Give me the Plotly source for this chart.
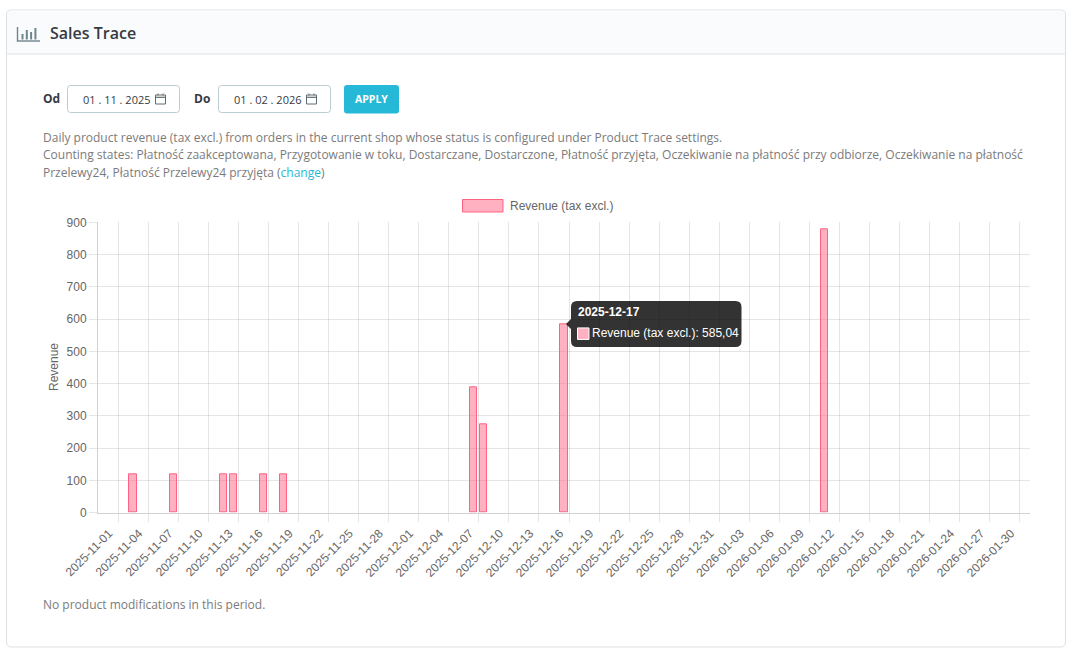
import plotly.graph_objects as go
import pandas as pd

W, H = 1077, 657

# ---------------- data ----------------
period_start = "2025-11-01"
period_end = "2026-02-01"
dates = [d.strftime("%Y-%m-%d") for d in pd.date_range(period_start, period_end, freq="D")]
sale_days = ["2025-11-04", "2025-11-08", "2025-11-13", "2025-11-14", "2025-11-17",
             "2025-11-19", "2025-12-08", "2025-12-09", "2025-12-17", "2026-01-12"]
sale_revenue = [120, 120, 120, 120, 120, 120, 389, 274, 585.04, 878]
tick_labels = dates[::3]
y_ticks = list(range(0, 901, 100))
series_name = "Revenue (tax excl.)"
hover_day = "2025-12-17"

# ---------------- styles ----------------
PINK_FILL = "rgba(255,99,132,0.5)"
PINK_LINE = "rgb(255,99,132)"
GRID = "rgba(0,0,0,0.1)"
AXIS = "rgba(0,0,0,0.18)"
CHART_FONT = "Liberation Sans, Arial, sans-serif"
PAGE_FONT = "Open Sans, Noto Sans, sans-serif"
TXT_DARK = "#363a41"
TXT_HELP = "#7b7b7b"
ACCENT = "#25b9d7"

PLOT_L, PLOT_R, PLOT_T, PLOT_B = 98, 1030, 222.3, 512.7


def px(x):
    return x / W


def py(y):
    return 1 - y / H


def rounded_path(x0, y0, x1, y1, r, top_only=False):
    rb = 0 if top_only else r
    pts = [
        f"M{px(x0 + r)},{py(y0)}",
        f"L{px(x1 - r)},{py(y0)}",
        f"Q{px(x1)},{py(y0)} {px(x1)},{py(y0 + r)}",
        f"L{px(x1)},{py(y1 - rb)}",
        f"Q{px(x1)},{py(y1)} {px(x1 - rb)},{py(y1)}",
        f"L{px(x0 + rb)},{py(y1)}",
        f"Q{px(x0)},{py(y1)} {px(x0)},{py(y1 - rb)}",
        f"L{px(x0)},{py(y0 + r)}",
        f"Q{px(x0)},{py(y0)} {px(x0 + r)},{py(y0)}",
        "Z",
    ]
    return " ".join(pts)


fig = go.Figure()

fig.add_trace(go.Bar(
    x=sale_days, y=sale_revenue, name=series_name,
    width=0.72,
    marker=dict(color=PINK_FILL, line=dict(color=PINK_LINE, width=1)),
    showlegend=False, hoverinfo="skip",
))
# helper trace for the boundary grid axis
fig.add_trace(go.Scatter(x=[], y=[], xaxis="x2", yaxis="y", showlegend=False,
                         hoverinfo="skip", mode="markers"))

n = len(dates)
grid_bounds = [i * 3 + 1.5 for i in range(len(tick_labels))]

shapes = []
annotations = []

# ---- page panel ----
shapes.append(dict(type="path", xref="paper", yref="paper", layer="below",
                   path=rounded_path(6.5, 10, 1065.5, 647, 5),
                   fillcolor="white", line=dict(color="#dbe0e3", width=1)))
shapes.append(dict(type="path", xref="paper", yref="paper", layer="below",
                   path=rounded_path(7, 10.5, 1065, 54, 5, top_only=True),
                   fillcolor="#fafbfc", line=dict(width=0)))
shapes.append(dict(type="line", xref="paper", yref="paper", layer="below",
                   x0=px(7), x1=px(1065), y0=py(54), y1=py(54),
                   line=dict(color="#dde3e6", width=1)))

# header icon (bar-chart glyph)
ICON = "#6c868e"
shapes.append(dict(type="line", xref="paper", yref="paper", x0=px(17.5), x1=px(17.5),
                   y0=py(27), y1=py(41.5), line=dict(color=ICON, width=1.4)))
shapes.append(dict(type="line", xref="paper", yref="paper", x0=px(17), x1=px(40),
                   y0=py(41), y1=py(41), line=dict(color=ICON, width=1.4)))
for bx, top in [(21.5, 34), (25.8, 30), (30.1, 32), (34.4, 28)]:
    shapes.append(dict(type="rect", xref="paper", yref="paper", x0=px(bx), x1=px(bx + 2),
                       y0=py(39.5), y1=py(top), fillcolor=ICON, line=dict(width=0)))

annotations.append(dict(xref="paper", yref="paper", x=px(47.5), y=py(33.5), xanchor="left",
                        yanchor="middle", showarrow=False, text="Sales Trace",
                        font=dict(family=PAGE_FONT, size=16, weight=600, color=TXT_DARK)))

# date inputs
for label, lx, bx0, bx1, val in [("Od", 40.5, 67.5, 179.5, "01 . 11 . 2025"),
                                 ("Do", 191.5, 218.5, 330.5, "01 . 02 . 2026")]:
    annotations.append(dict(xref="paper", yref="paper", x=px(lx), y=py(98), xanchor="left",
                            yanchor="middle", showarrow=False, text=label,
                            font=dict(family=PAGE_FONT, size=12, weight=700, color=TXT_DARK)))
    shapes.append(dict(type="path", xref="paper", yref="paper",
                       path=rounded_path(bx0, 85.5, bx1, 112.5, 3),
                       fillcolor="white", line=dict(color="#bbcdd2", width=1)))
    annotations.append(dict(xref="paper", yref="paper", x=px(bx0 + 13), y=py(99.5),
                            xanchor="left", yanchor="middle", showarrow=False, text=val,
                            font=dict(family=PAGE_FONT, size=11, color=TXT_DARK)))
    cx = bx1 - 24
    shapes.append(dict(type="rect", xref="paper", yref="paper", x0=px(cx), x1=px(cx + 10),
                       y0=py(95), y1=py(104), fillcolor="rgba(0,0,0,0)",
                       line=dict(color="#5f6b70", width=1)))
    shapes.append(dict(type="line", xref="paper", yref="paper", x0=px(cx), x1=px(cx + 10),
                       y0=py(97.3), y1=py(97.3), line=dict(color="#5f6b70", width=1.2)))
    for tx in (cx + 2.5, cx + 7.5):
        shapes.append(dict(type="line", xref="paper", yref="paper", x0=px(tx), x1=px(tx),
                           y0=py(93.5), y1=py(95.5), line=dict(color="#5f6b70", width=1)))

# apply button
shapes.append(dict(type="path", xref="paper", yref="paper",
                   path=rounded_path(344, 85, 399, 113.5, 3),
                   fillcolor=ACCENT, line=dict(width=0)))
annotations.append(dict(xref="paper", yref="paper", x=px(371.5), y=py(99.5), xanchor="center",
                        yanchor="middle", showarrow=False, text="APPLY",
                        font=dict(family=PAGE_FONT, size=10.5, weight=700, color="white")))

# help text
help_lines = [
    "Daily product revenue (tax excl.) from orders in the current shop whose status is configured under Product Trace settings.",
    "Counting states: Płatność zaakceptowana, Przygotowanie w toku, Dostarczane, Dostarczone, Płatność przyjęta, Oczekiwanie na płatność przy odbiorze, Oczekiwanie na płatność",
    f"Przelewy24, Płatność Przelewy24 przyjęta (<span style='color:{ACCENT}'>change</span>)",
]
for i, line in enumerate(help_lines):
    annotations.append(dict(xref="paper", yref="paper", x=px(40.5), y=py(137.5 + i * 17.5),
                            xanchor="left", yanchor="middle", showarrow=False, text=line,
                            font=dict(family=PAGE_FONT, size=12, color=TXT_HELP)))

annotations.append(dict(xref="paper", yref="paper", x=px(40.5), y=py(604), xanchor="left",
                        yanchor="middle", showarrow=False,
                        text="No product modifications in this period.",
                        font=dict(family=PAGE_FONT, size=12, color=TXT_HELP)))

# legend (Chart.js style wide swatch)
shapes.append(dict(type="rect", xref="paper", yref="paper", x0=px(462.5), x1=px(503),
                   y0=py(199.5), y1=py(212), fillcolor=PINK_FILL,
                   line=dict(color=PINK_LINE, width=1)))
annotations.append(dict(xref="paper", yref="paper", x=px(508), y=py(205.5), xanchor="left",
                        yanchor="middle", showarrow=False, text=series_name,
                        font=dict(family=CHART_FONT, size=12, color="#666")))

# y axis title
annotations.append(dict(xref="paper", yref="paper", x=px(53.5), y=py(367.5), xanchor="center",
                        yanchor="middle", showarrow=False, text="Revenue", textangle=-90,
                        font=dict(family=CHART_FONT, size=12, color="#666")))

# ---- tooltip anchored to hovered bar ----
hv = sale_revenue[sale_days.index(hover_day)]
L, R, T, B, r = 7, 177.5, 23, -23, 6
tip_path = (f"M{L + r},{T} L{R - r},{T} Q{R},{T} {R},{T - r} L{R},{B + r} Q{R},{B} {R - r},{B} "
            f"L{L + r},{B} Q{L},{B} {L},{B + r} L{L},-5 L2,0 L{L},5 L{L},{T - r} Q{L},{T} {L + r},{T} Z")
shapes.append(dict(type="path", xref="x", yref="y", xsizemode="pixel", ysizemode="pixel",
                   xanchor=hover_day, yanchor=hv, path=tip_path,
                   fillcolor="rgba(0,0,0,0.8)", line=dict(width=0)))
shapes.append(dict(type="rect", xref="x", yref="y", xsizemode="pixel", ysizemode="pixel",
                   xanchor=hover_day, yanchor=hv, x0=13.5, x1=25, y0=-15.5, y1=-4,
                   fillcolor="#ffb1c1", line=dict(color="white", width=1)))
annotations.append(dict(xref="x", yref="y", x=hover_day, y=hv, xshift=12, yshift=11.5,
                        xanchor="left", yanchor="middle", showarrow=False,
                        text=f"<b>{hover_day}</b>",
                        font=dict(family=CHART_FONT, size=12, color="white")))
hv_txt = f"{hv:.2f}".replace(".", ",")
annotations.append(dict(xref="x", yref="y", x=hover_day, y=hv, xshift=26, yshift=-9.5,
                        xanchor="left", yanchor="middle", showarrow=False,
                        text=f"{series_name}: {hv_txt}",
                        font=dict(family=CHART_FONT, size=12, color="white")))

fig.update_layout(
    width=W, height=H, autosize=False,
    margin=dict(l=0, r=0, t=0, b=0, pad=0, autoexpand=False),
    paper_bgcolor="white", plot_bgcolor="rgba(0,0,0,0)",
    showlegend=False, bargap=0,
    shapes=shapes, annotations=annotations,
    xaxis=dict(
        domain=[px(PLOT_L), px(PLOT_R)], type="category", automargin=False,
        categoryorder="array", categoryarray=dates, range=[-0.5, n - 0.5],
        tickmode="array", tickvals=tick_labels, ticktext=tick_labels, tickangle=-45,
        ticklabelstandoff=8, ticklabelshift=6,
        ticks="", showgrid=False, zeroline=False,
        showline=True, linecolor=AXIS, linewidth=1,
        tickfont=dict(family=CHART_FONT, size=12, color="#666"),
        fixedrange=True,
    ),
    xaxis2=dict(
        overlaying="x", anchor="y", type="linear", range=[-0.5, n - 0.5], automargin=False,
        domain=[px(PLOT_L), px(PLOT_R)],
        tickmode="array", tickvals=grid_bounds, showticklabels=False,
        showgrid=True, gridcolor=GRID, gridwidth=1, zeroline=False, showline=False,
        ticks="outside", ticklen=8, tickcolor=GRID, tickwidth=1, side="bottom",
        fixedrange=True,
    ),
    yaxis=dict(
        domain=[py(PLOT_B), py(PLOT_T)], range=[0, 900], automargin=False,
        tickmode="array", tickvals=y_ticks,
        showgrid=True, gridcolor=GRID, gridwidth=1, zeroline=False,
        showline=True, linecolor=AXIS, linewidth=1,
        ticks="outside", ticklen=8, tickcolor=GRID, tickwidth=1,
        tickfont=dict(family=CHART_FONT, size=12, color="#666"),
        fixedrange=True,
    ),
)

fig.write_html("out.html", config={"displayModeBar": False},
               post_script="document.body.style.margin='0';document.body.style.overflow='hidden';")
